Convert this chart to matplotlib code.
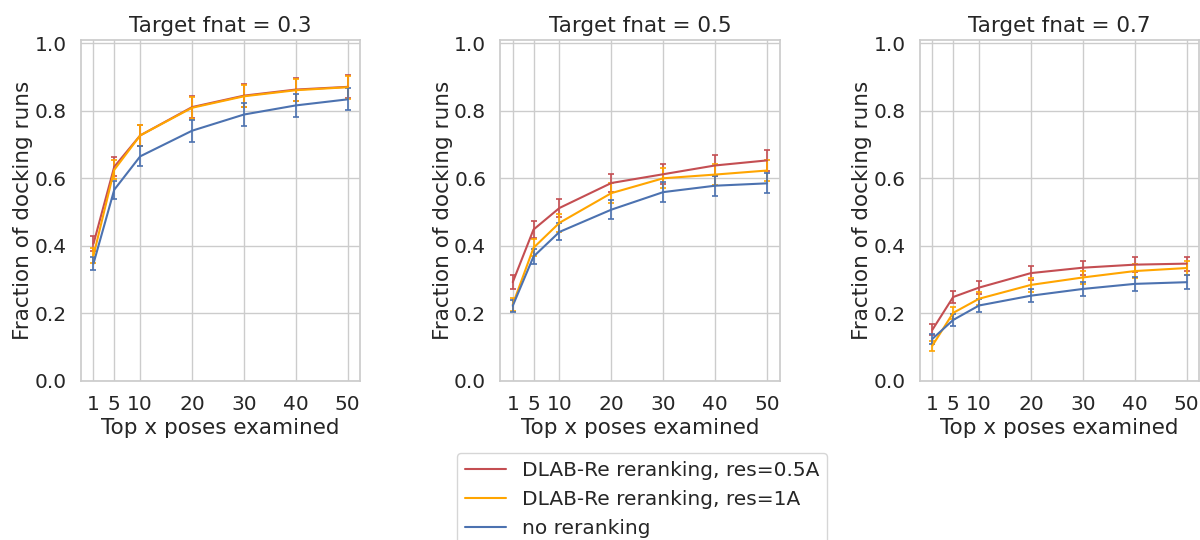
import matplotlib
matplotlib.use('Agg')
import matplotlib.pyplot as plt
from matplotlib.lines import Line2D
import seaborn as sns

sns.set_theme(style='whitegrid')
plt.rcParams['font.family'] = ['DejaVu Sans']

top_x = [1, 5, 10, 20, 30, 40, 50]
fnat_targets = [0.3, 0.5, 0.7]

labels = ['DLAB-Re reranking, res=0.5A', 'DLAB-Re reranking, res=1A', 'no reranking']
colors = ['#C44E52', 'orange', '#4C72B0']

# fraction of docking runs with a hit in the top x poses, one row per target fnat
res05 = [
    [0.406, 0.634, 0.727, 0.811, 0.845, 0.863, 0.871],
    [0.292, 0.448, 0.512, 0.586, 0.612, 0.638, 0.653],
    [0.151, 0.248, 0.276, 0.319, 0.335, 0.344, 0.347],
]
res05_err = [
    [0.022, 0.028, 0.030, 0.032, 0.033, 0.033, 0.034],
    [0.020, 0.024, 0.026, 0.028, 0.030, 0.030, 0.030],
    [0.017, 0.017, 0.019, 0.021, 0.021, 0.022, 0.021],
]
res1 = [
    [0.371, 0.625, 0.727, 0.809, 0.843, 0.861, 0.870],
    [0.226, 0.394, 0.468, 0.556, 0.600, 0.611, 0.623],
    [0.104, 0.201, 0.243, 0.284, 0.306, 0.325, 0.334],
]
res1_err = [
    [0.021, 0.028, 0.030, 0.032, 0.033, 0.033, 0.034],
    [0.020, 0.025, 0.027, 0.029, 0.030, 0.030, 0.030],
    [0.015, 0.018, 0.019, 0.020, 0.020, 0.020, 0.020],
]
norerank = [
    [0.347, 0.566, 0.665, 0.741, 0.789, 0.816, 0.834],
    [0.222, 0.368, 0.441, 0.507, 0.559, 0.578, 0.585],
    [0.124, 0.180, 0.223, 0.252, 0.272, 0.287, 0.292],
]
norerank_err = [
    [0.020, 0.027, 0.030, 0.032, 0.033, 0.033, 0.033],
    [0.017, 0.021, 0.025, 0.028, 0.029, 0.030, 0.030],
    [0.015, 0.017, 0.018, 0.019, 0.020, 0.020, 0.020],
]

fig = plt.figure(figsize=(12, 5.4), dpi=100)
lefts = [0.0673, 0.4167, 0.7664]

for i, fnat in enumerate(fnat_targets):
    ax = fig.add_axes([lefts[i], 0.295, 0.2331, 0.631])
    series = [(res05[i], res05_err[i]), (res1[i], res1_err[i]), (norerank[i], norerank_err[i])]
    for (vals, errs), c in zip(series, colors):
        ax.errorbar(top_x, vals, yerr=errs, color=c, lw=1.5, elinewidth=1.2,
                    capsize=2, capthick=1.2)
    ax.set_ylim(0, 1.01)
    ax.set_xticks(top_x)
    ax.set_yticks([0.0, 0.2, 0.4, 0.6, 0.8, 1.0])
    ax.tick_params(labelsize=14.5, pad=4)
    ax.set_title(f'Target fnat = {fnat}', fontsize=15.5, color='#262626')
    ax.set_xlabel('Top x poses examined', fontsize=15.5, labelpad=3)
    ax.set_ylabel('Fraction of docking runs', fontsize=15.5, labelpad=1)

handles = [Line2D([], [], color=c, lw=1.5) for c in colors]
fig.legend(handles, labels, loc='upper left', bbox_to_anchor=(0.381, 0.161),
           borderaxespad=0, fontsize=14.5, frameon=True)

fig.savefig('out.png', dpi=100)
